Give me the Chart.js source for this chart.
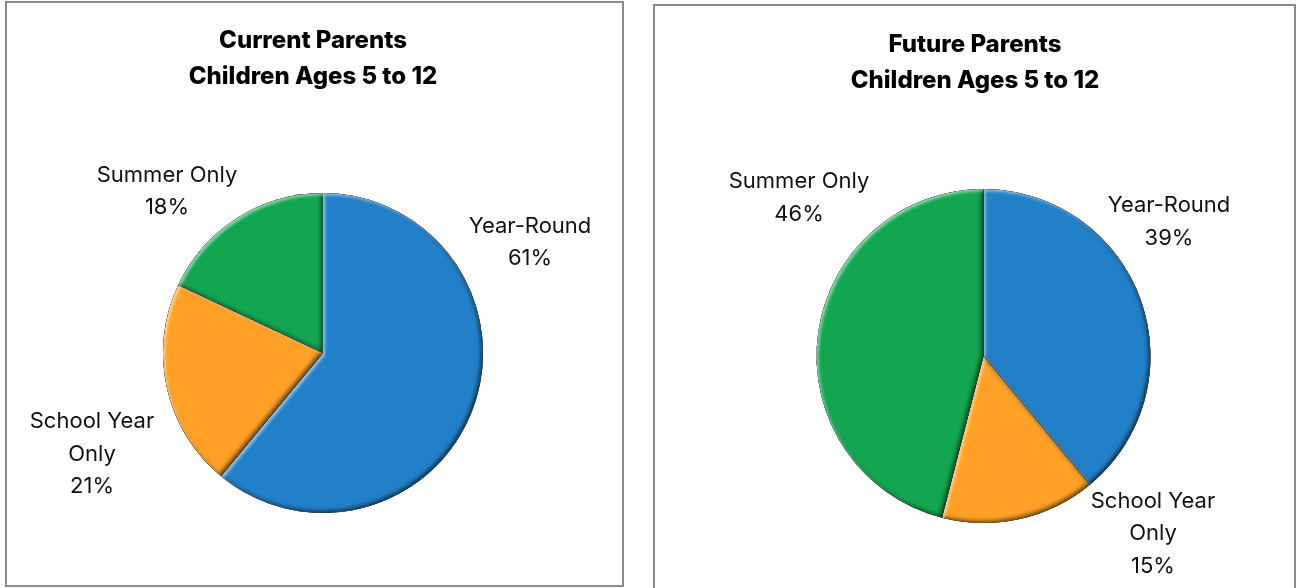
<!DOCTYPE html>
<html>
<head>
<meta charset="utf-8">
<script src="https://cdn.jsdelivr.net/npm/chart.js@4.4.0/dist/chart.umd.min.js"></script>
<style>
  body { margin: 0; background: #fff; width: 1297px; height: 588px; overflow: hidden; position: relative; }
  .box { position: absolute; border: 2px solid #8a8a8a; background: #fff; box-sizing: border-box; }
  #boxCurrent { left: 5px; top: 1px; width: 619px; height: 586px; }
  #boxFuture { left: 653px; top: 4px; width: 643px; height: 600px; }
</style>
</head>
<body>
<div class="box" id="boxCurrent"><canvas id="currentChart"></canvas></div>
<div class="box" id="boxFuture"><canvas id="futureChart"></canvas></div>
<script>
// Survey shares (percent), same category order for both pies
const categories = ['Year-Round', 'School Year Only', 'Summer Only'];
const currentParents = [61, 21, 18];
const futureParents = [39, 15, 46];
const titleLine2 = 'Children Ages 5 to 12';

const sliceColors = ['#2280c8', '#ffa126', '#13a651'];
const labelFont = '400 22px Inter, "Open Sans", sans-serif';
const titleFont = '800 24px Inter, "Open Sans", sans-serif';
const labelLineHeight = 32.5;
const titleLineHeight = 36;

// Inner shadow: paint the shadow of everything outside the slice, clipped to the slice
const innerShadow = (ctx, path, color, blur, ox, oy) => {
    ctx.save();
    ctx.beginPath();
    path();
    ctx.clip();
    ctx.beginPath();
    ctx.rect(-5000, -5000, 10000, 10000);
    path();
    ctx.shadowColor = color;
    ctx.shadowBlur = blur;
    ctx.shadowOffsetX = ox;
    ctx.shadowOffsetY = oy;
    ctx.fillStyle = '#000';
    ctx.fill('evenodd');
    ctx.restore();
};

// Bevel look on each slice, the outside labels and the two-line heading
const bevelAndLabels = {
    id: 'bevelAndLabels',
    afterDatasetsDraw(chart, args, opts) {
        const ctx = chart.ctx;
        const meta = chart.getDatasetMeta(0);
        const values = chart.data.datasets[0].data;

        meta.data.forEach((arc) => {
            const p = arc.getProps(['x', 'y', 'startAngle', 'endAngle', 'outerRadius'], true);
            const path = () => {
                ctx.moveTo(p.x, p.y);
                ctx.arc(p.x, p.y, p.outerRadius, p.startAngle, p.endAngle);
                ctx.closePath();
            };
            innerShadow(ctx, path, 'rgba(0,0,0,0.6)', 4, -2, -2);
            innerShadow(ctx, path, 'rgba(255,255,255,0.55)', 3, 2, 2);
        });

        ctx.save();
        ctx.textAlign = 'center';
        ctx.textBaseline = 'middle';

        ctx.font = labelFont;
        ctx.fillStyle = '#111';
        meta.data.forEach((arc, i) => {
            const lines = opts.lines[i].concat(values[i] + '%');
            const [dx, dy] = opts.offsets[i];
            const top = arc.y + dy - (lines.length - 1) * labelLineHeight / 2;
            lines.forEach((t, k) => ctx.fillText(t, arc.x + dx, top + k * labelLineHeight));
        });

        ctx.font = titleFont;
        ctx.fillStyle = '#000';
        opts.title.forEach((t, k) => ctx.fillText(t, opts.titleX, opts.titleY + k * titleLineHeight));
        ctx.restore();
    }
};

const makePie = (id, title, values, padding, titleX, titleY, offsets) => new Chart(document.getElementById(id), {
    type: 'pie',
    data: {
        labels: categories,
        datasets: [{
            data: values,
            backgroundColor: sliceColors,
            borderWidth: 0
        }]
    },
    options: {
        responsive: true,
        maintainAspectRatio: false,
        animation: false,
        layout: { padding: padding },
        plugins: {
            legend: { display: false },
            tooltip: { enabled: false },
            bevelAndLabels: {
                title: [title, titleLine2],
                titleX: titleX,
                titleY: titleY,
                lines: [['Year-Round'], ['School Year', 'Only'], ['Summer Only']],
                offsets: offsets
            }
        }
    },
    plugins: [bevelAndLabels]
});

makePie('currentChart', 'Current Parents', currentParents,
    { top: 190, bottom: 72, left: 17, right: 0 }, 306, 38,
    [[207, -110.5], [-231, 101], [-156, -161.5]]);

makePie('futureChart', 'Future Parents', futureParents,
    { top: 183, bottom: 79, left: 18, right: 0 }, 320, 39,
    [[185.5, -134], [169.5, 177.5], [-184.5, -158]]);
</script>
</body>
</html>
